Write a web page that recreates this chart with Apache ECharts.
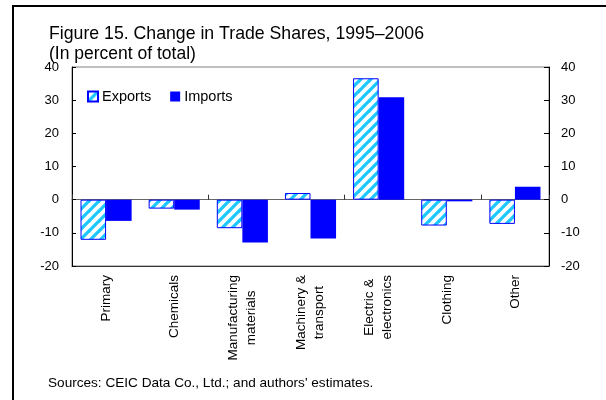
<!DOCTYPE html>
<html>
<head>
<meta charset="utf-8">
<script src="https://cdn.jsdelivr.net/npm/echarts@6/dist/echarts.min.js"></script>
<style>
html,body{margin:0;padding:0;background:#fff;}
#chart{width:606px;height:400px;}
</style>
</head>
<body>
<div id="chart"></div>
<script>
var categories = ['Primary', 'Chemicals', 'Manufacturing\nmaterials', 'Machinery &\ntransport', 'Electric &\nelectronics', 'Clothing', 'Other'];
var exportsData = [-12.1, -2.7, -8.6, 2.0, 36.6, -7.8, -7.3];
var importsData = [-6.4, -3.0, -12.9, -11.7, 30.9, -0.5, 3.9];
var yTicks = [-20, -10, 0, 10, 20, 30, 40];

var FONT = '"Liberation Sans", Arial, sans-serif';

// hatch pattern for Exports
var tile = document.createElement('canvas');
tile.width = 10; tile.height = 10;
var ctx = tile.getContext('2d');
ctx.fillStyle = '#ffffff';
ctx.fillRect(0, 0, 10, 10);
ctx.strokeStyle = '#1ec8ff';
ctx.lineWidth = 3.3;
[0, 10, 20].forEach(function (k) {
  ctx.beginPath();
  ctx.moveTo(-1, k + 1);
  ctx.lineTo(k + 1, -1);
  ctx.stroke();
});
var hatch = { image: tile, repeat: 'repeat' };

var chart = echarts.init(document.getElementById('chart'), null, { renderer: 'canvas' });

var option = {
  animation: false,
  backgroundColor: '#ffffff',
  title: [
    { text: 'Figure 15. Change in Trade Shares, 1995\u20132006', left: 44, top: 20,
      textStyle: { fontFamily: FONT, fontSize: 17.7, fontWeight: 'normal', color: '#000' } },
    { text: '(In percent of total)', left: 44, top: 40,
      textStyle: { fontFamily: FONT, fontSize: 17.5, fontWeight: 'normal', color: '#000' } },
    { text: "Sources: CEIC Data Co., Ltd.; and authors' estimates.", left: 43, top: 371,
      textStyle: { fontFamily: FONT, fontSize: 13.6, fontWeight: 'normal', color: '#000' } }
  ],
  legend: {
    left: 82, top: 84,
    itemWidth: 10, itemHeight: 10, itemGap: 19,
    icon: 'rect',
    textStyle: { fontFamily: FONT, fontSize: 14.5, color: '#000', padding: [0, 0, 0, -1] },
    data: ['Exports', 'Imports']
  },
  grid: {
    left: 72, right: 57, top: 67, bottom: 134,
    show: true, borderColor: '#808080', borderWidth: 1, backgroundColor: 'transparent'
  },
  xAxis: [
    {
      type: 'category', data: categories,
      axisLine: { onZero: true, lineStyle: { color: '#666', width: 1 } },
      axisTick: { show: true, inside: true, length: 5, alignWithLabel: false, lineStyle: { color: '#333' } },
      axisLabel: { show: false }
    },
    {
      type: 'category', data: categories, position: 'bottom',
      axisLine: { onZero: false, lineStyle: { color: '#333', width: 1 } },
      axisTick: { show: false },
      axisLabel: {
        rotate: 90, margin: 9, interval: 0,
        fontFamily: FONT, fontSize: 13.5, color: '#000',
        formatter: function (v) {
          return v.split('\n').map(function (s) { return '{c|' + s + '}'; }).join('\n');
        },
        rich: { c: { align: 'center', fontFamily: FONT, fontSize: 13.5, lineHeight: 18, color: '#000' } }
      }
    }
  ],
  yAxis: [
    {
      type: 'value', min: -20, max: 40, interval: 10, position: 'left',
      axisLine: { show: true, lineStyle: { color: '#000' } },
      axisTick: { show: true, inside: true, length: 4, lineStyle: { color: '#000' } },
      splitLine: { show: false },
      axisLabel: { fontFamily: FONT, fontSize: 13, color: '#000', margin: 13,
        formatter: function (v) { return yTicks.indexOf(v) >= 0 ? String(v) : ''; } }
    },
    {
      type: 'value', min: -20, max: 40, interval: 10, position: 'right',
      axisLine: { show: true, lineStyle: { color: '#000' } },
      axisTick: { show: true, inside: true, length: 5, lineStyle: { color: '#000' } },
      splitLine: { show: false },
      axisLabel: { fontFamily: FONT, fontSize: 13, color: '#000', margin: 12,
        formatter: function (v) { return yTicks.indexOf(v) >= 0 ? String(v) : ''; } }
    }
  ],
  series: [
    {
      name: 'Exports', type: 'bar', data: exportsData, xAxisIndex: 0, yAxisIndex: 0,
      barGap: '0%', barCategoryGap: '25%',
      itemStyle: { color: hatch, borderColor: '#0000ff', borderWidth: 1 }
    },
    {
      name: 'Imports', type: 'bar', data: importsData, xAxisIndex: 0, yAxisIndex: 0,
      barGap: '0%', barCategoryGap: '25%',
      itemStyle: { color: '#0000ff' }
    }
  ],
  graphic: [
    { type: 'polyline', silent: true, z: 100,
      shape: { points: [[13, 400], [13, 6], [606, 6]] },
      style: { stroke: '#000', lineWidth: 2, fill: null } }
  ]
};
chart.setOption(option);
</script>
</body>
</html>
